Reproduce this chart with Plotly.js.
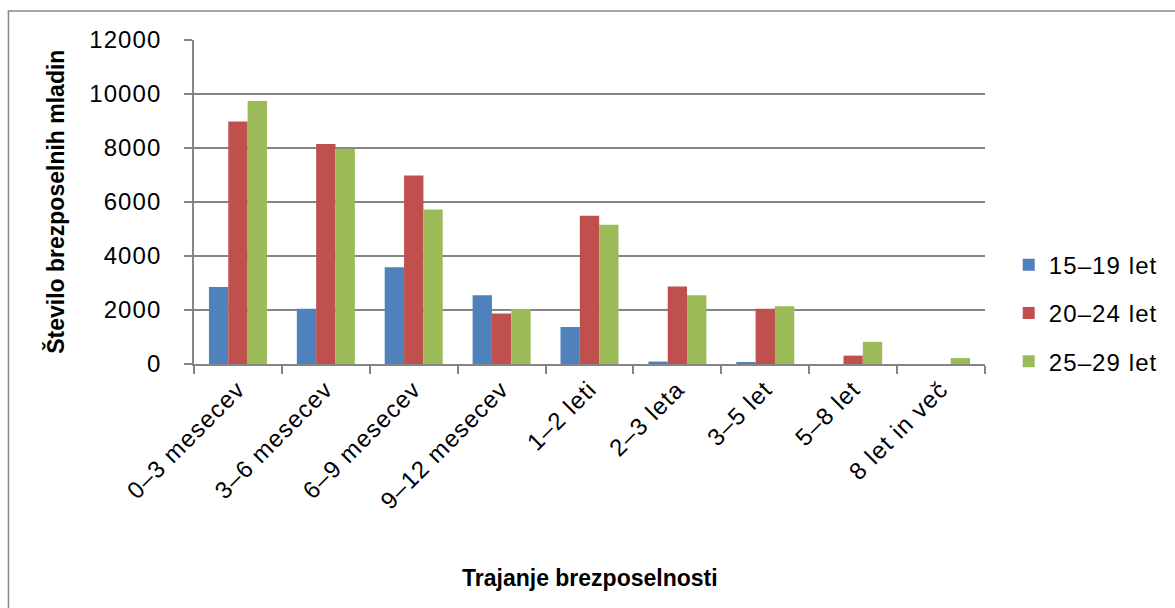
<!DOCTYPE html>
<html>
<head>
<meta charset="utf-8">
<script src="https://cdn.plot.ly/plotly-3.0.1.min.js"></script>
<style>
  html, body { margin: 0; padding: 0; background: #ffffff; }
  #chart { width: 1175px; height: 608px; }
  .xtick text, .ytick text, .legendtext { letter-spacing: 1.1px; }
</style>
</head>
<body>
<div id="chart"></div>
<script>
const categories = ["0–3 mesecev", "3–6 mesecev", "6–9 mesecev", "9–12 mesecev", "1–2 leti", "2–3 leta", "3–5 let", "5–8 let", "8 let in več"];
const seriesNames = ["15–19 let", "20–24 let", "25–29 let"];
const age15to19 = [2850, 2050, 3580, 2550, 1370, 90, 40, 0, 0];
const age20to24 = [8980, 8150, 6980, 1870, 5490, 2870, 2050, 310, 0];
const age25to29 = [9740, 7970, 5720, 2040, 5160, 2550, 2140, 820, 220];
const yTicks = [0, 2000, 4000, 6000, 8000, 10000, 12000];
const xTitle = "Trajanje brezposelnosti";
const yTitle = "Število brezposelnih mladin";

const colors = ["#4F81BD", "#C0504D", "#9BBB59"];
const seriesValues = [age15to19, age20to24, age25to29];
const font = "Liberation Sans, Arial, sans-serif";
const gridColor = "#858585";

const traces = seriesValues.map((vals, i) => ({
  type: "bar",
  name: seriesNames[i],
  x: categories,
  y: vals,
  legendgroup: "g" + i,
  marker: { color: colors[i], line: { width: 0 } },
  hoverinfo: "x+y+name"
}));

const layout = {
  width: 1175,
  height: 608,
  margin: { l: 194, r: 188, t: 40, b: 244 },
  paper_bgcolor: "#ffffff",
  plot_bgcolor: "#ffffff",
  font: { family: font, size: 24, color: "#000000" },
  barmode: "group",
  bargap: 0.34,
  bargroupgap: 0,
  showlegend: true,
  legend: {
    x: 1.03, xanchor: "left",
    y: 0.157, yanchor: "middle",
    traceorder: "grouped",
    tracegroupgap: 14,
    font: { family: font, size: 24, color: "#000000" },
    bgcolor: "rgba(0,0,0,0)"
  },
  xaxis: {
    type: "category",
    tickangle: -45,
    tickson: "boundaries",
    ticks: "outside",
    ticklen: 8,
    tickwidth: 1.5,
    tickcolor: gridColor,
    showline: true,
    linecolor: gridColor,
    linewidth: 1.5,
    showgrid: false,
    zeroline: false,
    tickfont: { family: font, size: 24, color: "#000000" }
  },
  yaxis: {
    range: [0, 12000],
    tickvals: yTicks,
    ticktext: yTicks.map(String),
    ticks: "outside",
    ticklen: 8,
    tickwidth: 1.5,
    tickcolor: gridColor,
    ticklabelstandoff: 18,
    showline: true,
    linecolor: gridColor,
    linewidth: 1.5,
    showgrid: true,
    gridcolor: gridColor,
    gridwidth: 1.6,
    zeroline: false,
    tickfont: { family: font, size: 24, color: "#000000" }
  },
  annotations: [
    {
      text: xTitle, xref: "paper", yref: "paper",
      x: 0.5, y: -0.6605, xanchor: "center", yanchor: "middle",
      showarrow: false,
      font: { family: font, size: 23, color: "#000000", weight: "bold" }
    },
    {
      text: yTitle, xref: "paper", yref: "paper",
      x: -0.176, y: 0.5, xanchor: "center", yanchor: "middle",
      textangle: -90, showarrow: false,
      font: { family: font, size: 23, color: "#000000", weight: "bold" }
    }
  ],
  shapes: [
    {
      type: "rect", xref: "paper", yref: "paper",
      x0: -0.2346, x1: 1.35, y0: -0.95, y1: 1.0895,
      line: { color: "#888888", width: 1.5 },
      fillcolor: "rgba(0,0,0,0)",
      layer: "below"
    }
  ]
};

Plotly.newPlot("chart", traces, layout, { displayModeBar: false });
</script>
</body>
</html>
